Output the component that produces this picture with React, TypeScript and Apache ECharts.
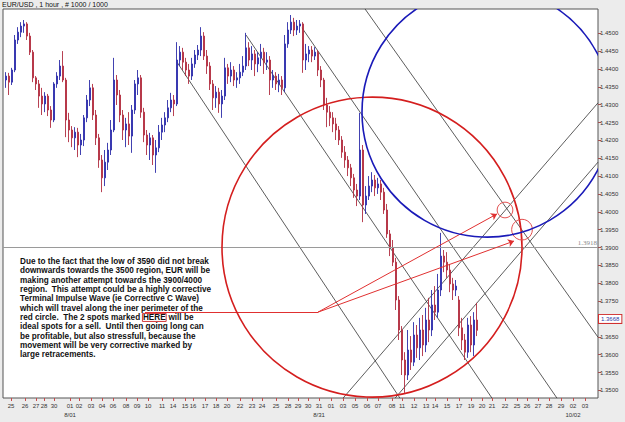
import React, { useEffect, useRef } from "react";
import * as echarts from "echarts";

const chartTitle = "EUR/USD , 1 hour , # 1000 / 1000";

// hourly-ish candles: [open, close, low, high]
const candles: number[][] = [
  [1.4369, 1.4380, 1.4347, 1.4391], [1.4380, 1.4363, 1.4327, 1.4389], [1.4363, 1.4397, 1.4355, 1.4403],
  [1.4397, 1.4481, 1.4391, 1.4495], [1.4481, 1.4503, 1.4470, 1.4517], [1.4503, 1.4520, 1.4489, 1.4531],
  [1.4520, 1.4526, 1.4501, 1.4537], [1.4526, 1.4492, 1.4481, 1.4531], [1.4492, 1.4447, 1.4439, 1.4501],
  [1.4447, 1.4375, 1.4363, 1.4453], [1.4375, 1.4358, 1.4341, 1.4380], [1.4358, 1.4324, 1.4291, 1.4369],
  [1.4324, 1.4302, 1.4271, 1.4347], [1.4302, 1.4324, 1.4279, 1.4335], [1.4324, 1.4285, 1.4268, 1.4330],
  [1.4285, 1.4257, 1.4235, 1.4296], [1.4257, 1.4358, 1.4251, 1.4363], [1.4358, 1.4380, 1.4347, 1.4391],
  [1.4380, 1.4408, 1.4369, 1.4425], [1.4408, 1.4369, 1.4363, 1.4450], [1.4369, 1.4257, 1.4209, 1.4375],
  [1.4257, 1.4229, 1.4195, 1.4277], [1.4229, 1.4207, 1.4181, 1.4240], [1.4207, 1.4223, 1.4173, 1.4237],
  [1.4223, 1.4187, 1.4153, 1.4235], [1.4187, 1.4201, 1.4159, 1.4218], [1.4201, 1.4263, 1.4184, 1.4271],
  [1.4263, 1.4313, 1.4251, 1.4327], [1.4313, 1.4347, 1.4296, 1.4369], [1.4347, 1.4271, 1.4257, 1.4358],
  [1.4271, 1.4207, 1.4187, 1.4285], [1.4207, 1.4145, 1.4123, 1.4218], [1.4145, 1.4095, 1.4055, 1.4159],
  [1.4095, 1.4139, 1.4072, 1.4173], [1.4139, 1.4173, 1.4117, 1.4193], [1.4173, 1.4229, 1.4159, 1.4257],
  [1.4229, 1.4369, 1.4223, 1.4431], [1.4369, 1.4327, 1.4299, 1.4383], [1.4327, 1.4271, 1.4251, 1.4341],
  [1.4271, 1.4229, 1.4201, 1.4285], [1.4229, 1.4246, 1.4181, 1.4263], [1.4246, 1.4212, 1.4187, 1.4279],
  [1.4212, 1.4285, 1.4165, 1.4299], [1.4285, 1.4358, 1.4274, 1.4369], [1.4358, 1.4375, 1.4327, 1.4397],
  [1.4375, 1.4279, 1.4263, 1.4383], [1.4279, 1.4215, 1.4195, 1.4291], [1.4215, 1.4187, 1.4159, 1.4229],
  [1.4187, 1.4207, 1.4145, 1.4221], [1.4207, 1.4159, 1.4131, 1.4215], [1.4159, 1.4179, 1.4109, 1.4201],
  [1.4179, 1.4223, 1.4167, 1.4243], [1.4223, 1.4243, 1.4201, 1.4263], [1.4243, 1.4263, 1.4223, 1.4279],
  [1.4263, 1.4291, 1.4251, 1.4313], [1.4291, 1.4313, 1.4279, 1.4333], [1.4313, 1.4302, 1.4268, 1.4327],
  [1.4302, 1.4425, 1.4296, 1.4475], [1.4425, 1.4447, 1.4408, 1.4464], [1.4447, 1.4419, 1.4397, 1.4459],
  [1.4419, 1.4397, 1.4380, 1.4431], [1.4397, 1.4380, 1.4358, 1.4414], [1.4380, 1.4414, 1.4369, 1.4431],
  [1.4414, 1.4439, 1.4403, 1.4453], [1.4439, 1.4453, 1.4425, 1.4467], [1.4453, 1.4492, 1.4436, 1.4517],
  [1.4492, 1.4436, 1.4425, 1.4503], [1.4436, 1.4408, 1.4386, 1.4453], [1.4408, 1.4358, 1.4341, 1.4419],
  [1.4358, 1.4319, 1.4285, 1.4369], [1.4319, 1.4335, 1.4291, 1.4352], [1.4335, 1.4302, 1.4277, 1.4347],
  [1.4302, 1.4324, 1.4263, 1.4341], [1.4324, 1.4403, 1.4313, 1.4431], [1.4403, 1.4380, 1.4358, 1.4414],
  [1.4380, 1.4397, 1.4363, 1.4419], [1.4397, 1.4369, 1.4352, 1.4408], [1.4369, 1.4375, 1.4347, 1.4391],
  [1.4375, 1.4391, 1.4358, 1.4414], [1.4391, 1.4408, 1.4380, 1.4436], [1.4408, 1.4459, 1.4397, 1.4501],
  [1.4459, 1.4425, 1.4408, 1.4475], [1.4425, 1.4442, 1.4397, 1.4464], [1.4442, 1.4414, 1.4380, 1.4453],
  [1.4414, 1.4431, 1.4391, 1.4447], [1.4431, 1.4447, 1.4408, 1.4470], [1.4447, 1.4419, 1.4386, 1.4459],
  [1.4419, 1.4425, 1.4397, 1.4447], [1.4425, 1.4369, 1.4327, 1.4436], [1.4369, 1.4380, 1.4347, 1.4397],
  [1.4380, 1.4358, 1.4341, 1.4391], [1.4358, 1.4369, 1.4335, 1.4386], [1.4369, 1.4347, 1.4327, 1.4380],
  [1.4347, 1.4470, 1.4335, 1.4495], [1.4470, 1.4509, 1.4459, 1.4531], [1.4509, 1.4531, 1.4498, 1.4551],
  [1.4531, 1.4509, 1.4492, 1.4543], [1.4509, 1.4520, 1.4495, 1.4537], [1.4520, 1.4526, 1.4501, 1.4537],
  [1.4526, 1.4425, 1.4389, 1.4531], [1.4425, 1.4442, 1.4397, 1.4470], [1.4442, 1.4453, 1.4419, 1.4464],
  [1.4453, 1.4436, 1.4419, 1.4464], [1.4436, 1.4447, 1.4425, 1.4461], [1.4447, 1.4397, 1.4380, 1.4453],
  [1.4397, 1.4369, 1.4349, 1.4408], [1.4369, 1.4299, 1.4285, 1.4375], [1.4299, 1.4279, 1.4237, 1.4319],
  [1.4279, 1.4263, 1.4240, 1.4296], [1.4263, 1.4246, 1.4223, 1.4279], [1.4246, 1.4229, 1.4201, 1.4263],
  [1.4229, 1.4201, 1.4187, 1.4240], [1.4201, 1.4167, 1.4151, 1.4212], [1.4167, 1.4145, 1.4123, 1.4184],
  [1.4145, 1.4123, 1.4100, 1.4156], [1.4123, 1.4095, 1.4072, 1.4134], [1.4095, 1.4061, 1.4039, 1.4106],
  [1.4061, 1.4044, 1.4016, 1.4078], [1.4044, 1.4173, 1.4033, 1.4277], [1.4173, 1.4019, 1.3971, 1.4187],
  [1.4019, 1.4044, 1.3994, 1.4072], [1.4044, 1.4072, 1.4033, 1.4100], [1.4072, 1.4089, 1.4055, 1.4111],
  [1.4089, 1.4067, 1.4044, 1.4103], [1.4067, 1.4078, 1.4050, 1.4095], [1.4078, 1.4055, 1.4033, 1.4089],
  [1.4055, 1.4005, 1.3994, 1.4067], [1.4005, 1.3938, 1.3927, 1.4022], [1.3938, 1.3899, 1.3876, 1.3949],
  [1.3899, 1.3859, 1.3848, 1.3921], [1.3859, 1.3753, 1.3725, 1.3871], [1.3753, 1.3669, 1.3641, 1.3764],
  [1.3669, 1.3585, 1.3543, 1.3680], [1.3585, 1.3543, 1.3493, 1.3607], [1.3543, 1.3613, 1.3529, 1.3669],
  [1.3613, 1.3579, 1.3557, 1.3652], [1.3579, 1.3655, 1.3568, 1.3691], [1.3655, 1.3619, 1.3591, 1.3683],
  [1.3619, 1.3669, 1.3585, 1.3703], [1.3669, 1.3627, 1.3596, 1.3711], [1.3627, 1.3697, 1.3607, 1.3731],
  [1.3697, 1.3669, 1.3635, 1.3759], [1.3669, 1.3739, 1.3652, 1.3781], [1.3739, 1.3719, 1.3697, 1.3792],
  [1.3719, 1.3781, 1.3703, 1.3826], [1.3781, 1.3876, 1.3764, 1.3941], [1.3876, 1.3859, 1.3831, 1.3893],
  [1.3859, 1.3837, 1.3815, 1.3887], [1.3837, 1.3798, 1.3775, 1.3854], [1.3798, 1.3781, 1.3753, 1.3815],
  [1.3781, 1.3792, 1.3764, 1.3809], [1.3753, 1.3675, 1.3652, 1.3764], [1.3675, 1.3641, 1.3613, 1.3703],
  [1.3641, 1.3607, 1.3585, 1.3658], [1.3607, 1.3683, 1.3591, 1.3703], [1.3683, 1.3627, 1.3607, 1.3708],
  [1.3627, 1.3697, 1.3596, 1.3719], [1.3697, 1.3668, 1.3652, 1.3745],
];

const xTickPos = [
  1.67, 6.33, 10, 12.67, 16, 21.33, 24.33, 28.33, 32, 35.67, 40, 43.67, 47.33, 52, 55.67,
  59.67, 62.33, 66.33, 70, 73.67, 78, 82, 85.33, 90, 94, 97.33, 100.67, 104.33, 108.33,
  112.33, 116.33, 120.33, 124, 128.67, 132, 136, 140, 143, 147, 151, 155, 158.67, 162,
  166.33, 170.33, 173.67, 177.33, 181, 185, 189, 193,
];
const xTickLabels = [
  "25", "26", "27", "28", "30", "01", "02", "03", "04", "06", "08", "09", "10", "11", "14",
  "15", "16", "17", "18", "20", "22", "23", "24", "25", "28", "29", "30", "31", "01",
  "03", "05", "06", "07", "08", "11", "12", "13", "14", "15", "17", "19", "20", "21",
  "22", "25", "26", "27", "28", "29", "02", "03",
];
const monthTickPos = [21.33, 104.33, 189];
const monthLabels = ["8/01", "8/31", "10/02"];

const yTickValues = [
  1.35, 1.355, 1.36, 1.365, 1.37, 1.375, 1.38, 1.385, 1.39, 1.395, 1.4,
  1.405, 1.41, 1.415, 1.42, 1.425, 1.43, 1.435, 1.44, 1.445, 1.45,
];

const referencePrice = 1.3918;
const lastPrice = 1.3668;

// trend lines: [[x1, price1], [x2, price2]]
const trendLines = [
  [[57, 1.4419], [131.33, 1.3478]],
  [[80, 1.4495], [162, 1.3478]],
  [[98.67, 1.4515], [183.67, 1.3478]],
  [[119.67, 1.4568], [197.33, 1.3649]],
  [[112.33, 1.3478], [197.33, 1.4305]],
  [[129.67, 1.3478], [197.33, 1.4139]],
];
const pointerLine = [[46.33, 1.3719], [104, 1.3719]];
const arrowStart = [104, 1.3719];
const arrowTips = [[163.67, 1.3994], [169.33, 1.3918]];

// circles: [centerX, centerPrice, radiusInPrice]
const redCircles = [[122, 1.3901, 0.042]];
const hereCircles = [[166.33, 1.4005, 0.0022], [172, 1.395, 0.0029]];
const blueCircles = [[160.33, 1.4279, 0.035]];

const noteLines = [
  "Due to the fact that the low of 3590 did not break",
  "downwards towards the 3500 region, EUR will be",
  "making another attempt towards the 3900/4000",
  "region.  This attempt could be a highly corrective",
  "Terminal Impulse Wave (ie Corrective C Wave)",
  "which will travel along the iner perimeter of the",
  "red circle.  The 2 spots marked HERE will be",
  "ideal spots for a sell.  Until then going long can",
  "be profitable, but also stressfull, because the",
  "movement will be very corrective marked by",
  "large retracements.",
];

const findLabel = (v: number, pos: number[], labels: string[]) => {
  for (let i = 0; i < pos.length; i++) if (Math.abs(pos[i] - v) < 0.02) return labels[i];
  return "";
};

const circleRender = (color: string, width: number) => (params: any, api: any) => {
  const c = api.coord([api.value(0), api.value(1)]);
  const r = Math.abs(api.size([0, api.value(2)])[1]);
  const cs = params.coordSys;
  return {
    type: "circle",
    shape: { cx: c[0], cy: c[1], r },
    style: { fill: "none", stroke: color, lineWidth: width },
    clipPath: { type: "rect", shape: { x: cs.x, y: cs.y, width: cs.width, height: cs.height } },
  };
};

export default function App() {
  const ref = useRef<HTMLDivElement>(null);
  useEffect(() => {
    if (!ref.current) return;
    const chart = echarts.init(ref.current, undefined, { renderer: "svg" });
    const font = "Arial, 'Liberation Sans', sans-serif";
    chart.setOption({
      animation: false,
      backgroundColor: "#ececec",
      grid: {
        left: 3, right: 27, top: 9, bottom: 24, show: true,
        backgroundColor: "#ffffff", borderColor: "#555", borderWidth: 1,
      },
      xAxis: {
        type: "value", min: -1, max: 197.33,
        axisLine: { show: false, onZero: false }, splitLine: { show: false },
        axisTick: { show: true, customValues: xTickPos, length: 3, lineStyle: { color: "#c84a4a" } },
        axisLabel: {
          customValues: xTickPos, fontSize: 6, color: "#333", margin: 3, lineHeight: 9, fontFamily: font,
          formatter: (v: number) => {
            const d = findLabel(v, xTickPos, xTickLabels);
            const m = findLabel(v, monthTickPos, monthLabels);
            return m ? d + "\n" + m : d;
          },
        },
      },
      yAxis: {
        type: "value", position: "right", min: 1.34786, max: 1.45678,
        axisLine: { show: false, onZero: false }, splitLine: { show: false },
        axisTick: { show: true, customValues: yTickValues, length: 3, lineStyle: { color: "#a05050" } },
        axisLabel: {
          customValues: yTickValues, fontSize: 6, color: "#333", margin: 2, fontFamily: font,
          formatter: (v: number) => v.toFixed(4),
        },
      },
      series: [
        {
          type: "lines", coordinateSystem: "cartesian2d", silent: true, z: 3,
          data: trendLines.map((c) => ({ coords: c })),
          lineStyle: { color: "#333", width: 0.8, opacity: 1 },
        },
        {
          type: "candlestick", z: 4,
          data: candles.map((c, i) => [i, c[0], c[1], c[2], c[3]]),
          encode: { x: 0, y: [1, 2, 3, 4] },
          barWidth: 1.8,
          itemStyle: {
            color: "#4646f0", color0: "#e85656",
            borderColor: "#2c2ca8", borderColor0: "#b02c40", borderWidth: 0.9,
          },
          markLine: {
            silent: true, symbol: ["none", "none"],
            data: [
              {
                yAxis: referencePrice,
                lineStyle: { color: "#9a9a9a", width: 1, type: "solid" },
                label: {
                  position: "insideEndTop", formatter: "1.3918", color: "#8a8a8a",
                  fontSize: 7, fontFamily: "'Liberation Serif', serif", distance: [1, 1],
                },
              },
              {
                yAxis: lastPrice,
                lineStyle: { color: "transparent", width: 0 },
                label: {
                  position: "end", formatter: "1.3668", color: "#2a3aa8", fontSize: 6,
                  fontFamily: font, borderColor: "#d03030", borderWidth: 1,
                  backgroundColor: "#fff", padding: [1, 2, 1, 2], distance: 1,
                },
              },
            ],
          },
        },
        {
          type: "lines", coordinateSystem: "cartesian2d", silent: true, z: 5,
          data: [{ coords: pointerLine }],
          lineStyle: { color: "#e03030", width: 1, opacity: 1 },
        },
        {
          type: "lines", coordinateSystem: "cartesian2d", silent: true, z: 5,
          symbol: ["none", "arrow"], symbolSize: 6,
          data: arrowTips.map((t) => ({ coords: [arrowStart, t] })),
          lineStyle: { color: "#e03030", width: 1, opacity: 1 },
        },
        {
          type: "custom", silent: true, z: 5,
          data: redCircles, encode: { x: 0, y: 1 },
          renderItem: circleRender("#d41e1e", 1.6),
        },
        {
          type: "custom", silent: true, z: 5,
          data: hereCircles, encode: { x: 0, y: 1 },
          renderItem: circleRender("#e25050", 1),
        },
        {
          type: "custom", silent: true, z: 5,
          data: blueCircles, encode: { x: 0, y: 1 },
          renderItem: circleRender("#1a1ab8", 1.6),
        },
      ],
      graphic: [
        {
          type: "text", x: 2, y: 1, silent: true,
          style: { text: chartTitle, fontSize: 7, fontFamily: font, fill: "#111", verticalAlign: "top" },
        },
        {
          type: "text", x: 20, y: 257, silent: true, z: 10,
          style: {
            text: noteLines.map((l) => l.replace("HERE", "{h|HERE}")).join("\n"),
            fontSize: 8.2, fontWeight: "bold", fontFamily: font, fill: "#111",
            lineHeight: 9.3, verticalAlign: "top",
            rich: {
              h: {
                fontSize: 8.2, fontWeight: "bold", fontFamily: font, fill: "#111",
                borderColor: "#d43a3a", borderWidth: 1, padding: [0, 0.5, 0, 0.5], lineHeight: 9.3,
              },
            },
          },
        },
      ],
    });
    return () => chart.dispose();
  }, []);
  return (
    <div
      ref={ref}
      style={{ position: "fixed", left: 0, top: 0, width: 625, height: 422 }}
    />
  );
}
